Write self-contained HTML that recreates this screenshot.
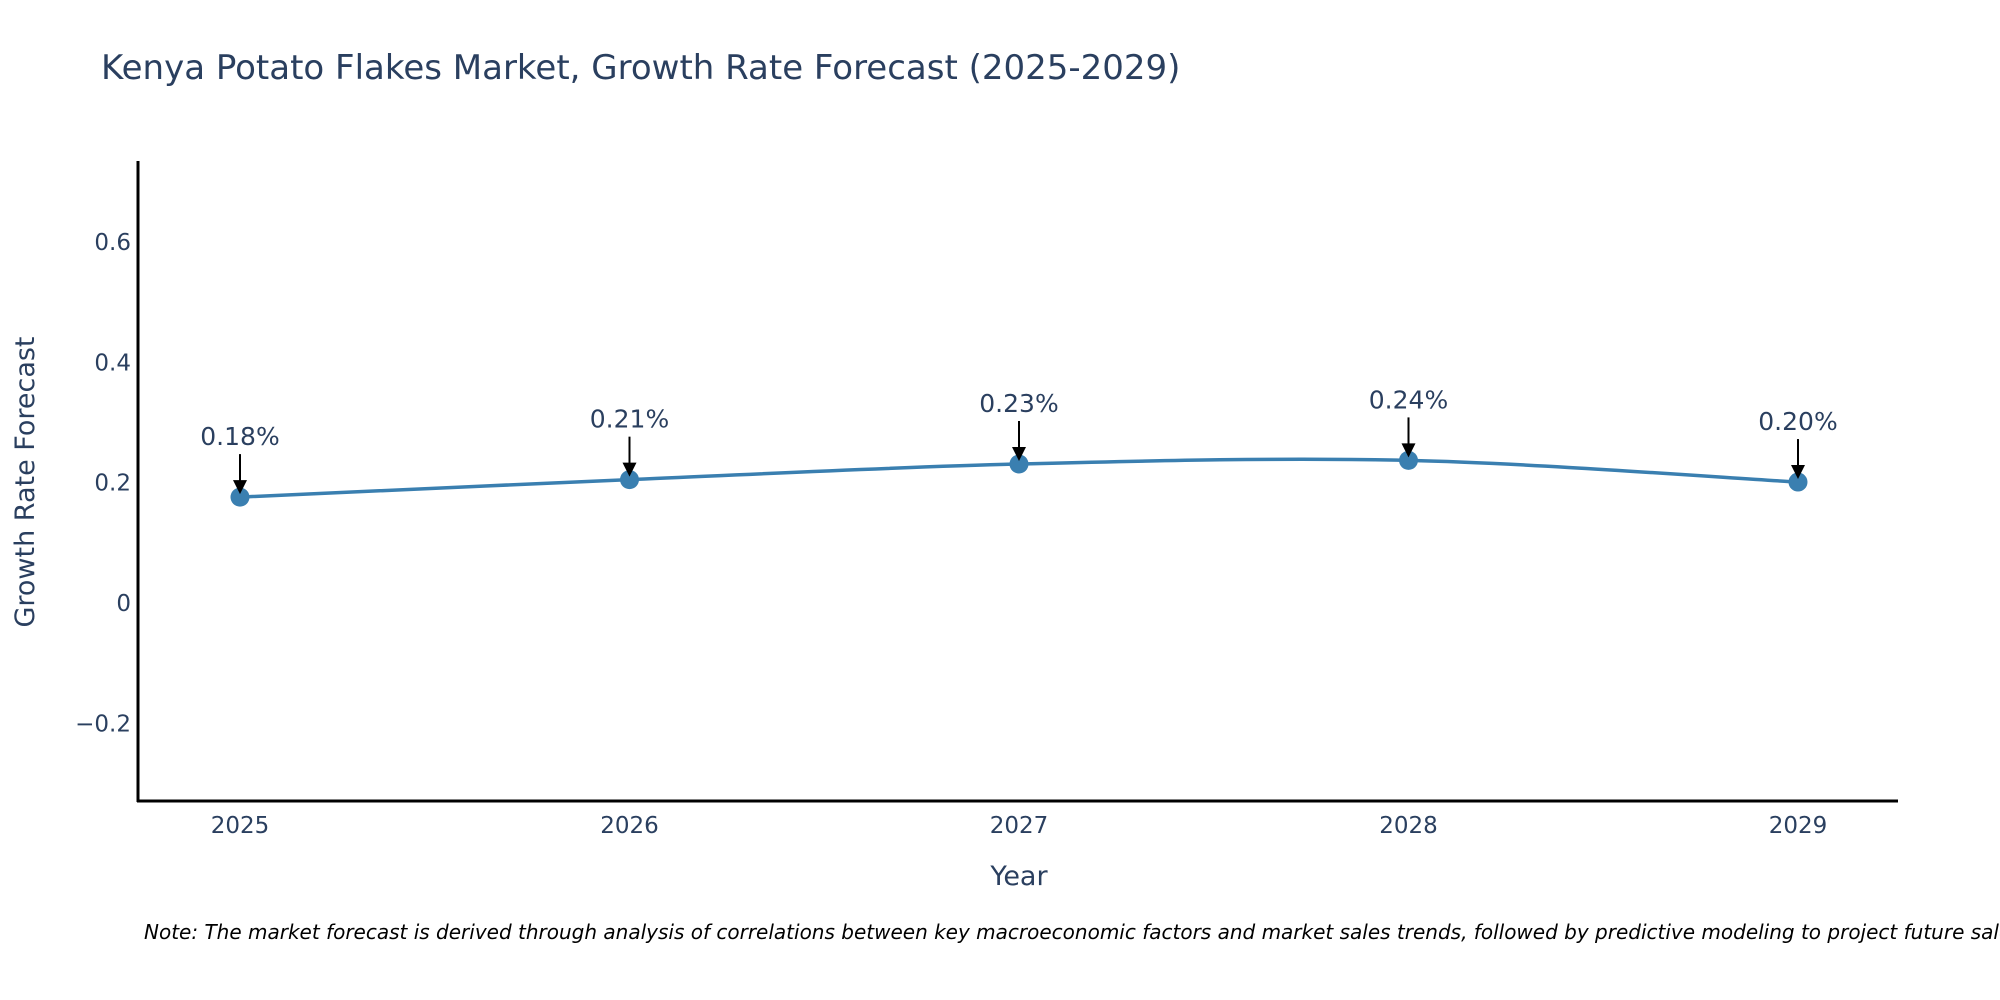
<!DOCTYPE html>
<html><head><meta charset="utf-8"><style>
body{margin:0;background:#fff;}
svg{display:block;font-family:"DejaVu Sans","Liberation Sans",sans-serif;}
</style></head><body>
<svg id="chart" width="2000" height="1000" viewBox="0 0 2000 1000">
<text x="101" y="79" font-size="34" fill="#2a3f5f">Kenya Potato Flakes Market, Growth Rate Forecast (2025-2029)</text>
<g id="yticks"></g>
<g id="xticks"></g>
<line x1="138" y1="161" x2="138" y2="802" stroke="#000" stroke-width="3"/>
<line x1="137" y1="801" x2="1898" y2="801" stroke="#000" stroke-width="3"/>
<text transform="translate(34,482) rotate(-90)" text-anchor="middle" font-size="27" fill="#2a3f5f">Growth Rate Forecast</text>
<text x="1019" y="885" text-anchor="middle" font-size="27" fill="#2a3f5f">Year</text>
<g id="series"></g>
<g id="annots"></g>
<text x="144" y="939" font-size="20" font-style="italic" fill="#000">Note: The market forecast is derived through analysis of correlations between key macroeconomic factors and market sales trends, followed by predictive modeling to project future sales.</text>
</svg>
<script>
const years = [2025, 2026, 2027, 2028, 2029];
const growth = [0.176, 0.205, 0.231, 0.237, 0.201];
const labels = ["0.18%", "0.21%", "0.23%", "0.24%", "0.20%"];
const yTickVals = [-0.2, 0, 0.2, 0.4, 0.6];
const yTickText = ["\u22120.2", "0", "0.2", "0.4", "0.6"];

const NS = "http://www.w3.org/2000/svg";
function xs(v){ return 240 + (v - 2025) * 389.5; }
function ys(v){ return 603 - v * 601.7; }
function mk(tag, attrs, parent){ const e = document.createElementNS(NS, tag); for (const k in attrs) e.setAttribute(k, attrs[k]); parent.appendChild(e); return e; }

const yt = document.getElementById('yticks');
yTickVals.forEach((v, i) => {
  const t = mk('text', {x: 131, y: ys(v) + 8, 'text-anchor': 'end', 'font-size': 23, fill: '#2a3f5f'}, yt);
  
  
  t.textContent = yTickText[i];
});
const xt = document.getElementById('xticks');
years.forEach(y => {
  const t = mk('text', {x: xs(y), y: 833, 'text-anchor': 'middle', 'font-size': 23, fill: '#2a3f5f'}, xt);
  
  
  t.textContent = String(y);
});

const pts = years.map((y, i) => [xs(y), ys(growth[i])]);
let d = `M${pts[0][0]},${pts[0][1]}`;
for (let i = 0; i < pts.length - 1; i++) {
  const p0 = pts[Math.max(0, i - 1)], p1 = pts[i], p2 = pts[i + 1], p3 = pts[Math.min(pts.length - 1, i + 2)];
  const c1 = [p1[0] + (p2[0] - p0[0]) / 6, p1[1] + (p2[1] - p0[1]) / 6];
  const c2 = [p2[0] - (p3[0] - p1[0]) / 6, p2[1] - (p3[1] - p1[1]) / 6];
  d += ` C${c1[0]},${c1[1]} ${c2[0]},${c2[1]} ${p2[0]},${p2[1]}`;
}
const s = document.getElementById('series');
const line = mk('path', {d: d, fill: 'none', stroke: '#3a7fb0', 'stroke-width': 3.5}, s);


pts.forEach(p => {
  const c = mk('circle', {cx: p[0], cy: p[1], r: 9.5, fill: '#3a7fb0'}, s);
  
  
});

const a = document.getElementById('annots');
pts.forEach((p, i) => {
  const tipY = p[1] - 3, tailY = p[1] - 43;
  const l = mk('line', {x1: p[0], y1: tailY, x2: p[0], y2: tipY - 12, stroke: '#000', 'stroke-width': 2}, a);
  
  
  const h = mk('polygon', {points: `${p[0]-7},${tipY-14} ${p[0]+7},${tipY-14} ${p[0]},${tipY}`, fill: '#000'}, a);
  
  
  const t = mk('text', {x: p[0], y: tailY - 9, 'text-anchor': 'middle', 'font-size': 25, fill: '#2a3f5f'}, a);
  
  
  t.textContent = labels[i];
});
</script>
</body></html>
